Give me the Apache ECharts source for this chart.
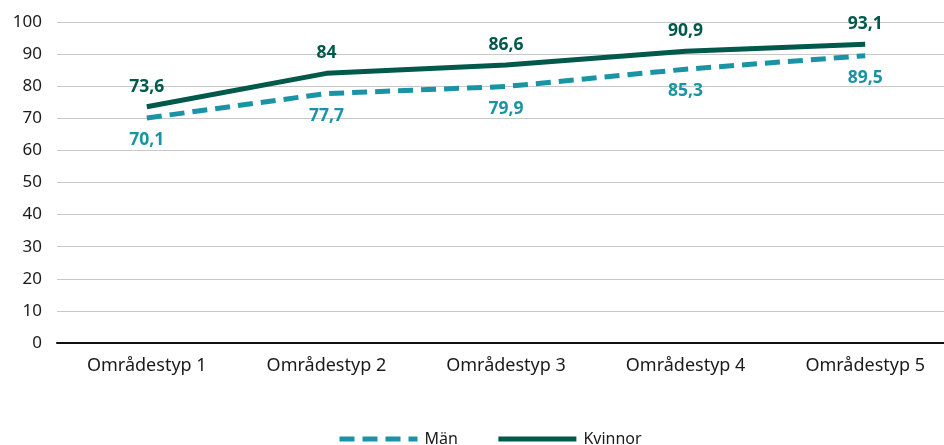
<!DOCTYPE html>
<html>
<head>
<meta charset="utf-8">
<script src="https://cdn.jsdelivr.net/npm/echarts@6/dist/echarts.min.js"></script>
<style>
  html, body { margin: 0; padding: 0; background: #fff; }
  #chart { width: 944px; height: 445px; }
</style>
</head>
<body>
<div id="chart"></div>
<script>
const categories = ["Områdestyp 1", "Områdestyp 2", "Områdestyp 3", "Områdestyp 4", "Områdestyp 5"];
const manValues = [70.1, 77.7, 79.9, 85.3, 89.5];
const kvinnorValues = [73.6, 84, 86.6, 90.9, 93.1];

const fontFamily = "'Noto Sans', 'Open Sans', sans-serif";
const colorMan = "#1a94a4";
const colorKvinnor = "#00594a";

const chart = echarts.init(document.getElementById("chart"));
const fmt = (p) => String(p.value).replace(".", ",");

chart.setOption({
  animation: false,
  textStyle: { fontFamily: fontFamily },
  grid: { left: 57, top: 22, right: -11, height: 321, outerBoundsMode: "none", containLabel: false },
  legend: {
    top: 431,
    left: 337,
    padding: 0,
    itemWidth: 78,
    itemHeight: 10,
    itemGap: 38,
    itemStyle: { opacity: 0 },
    lineStyle: { width: 5 },
    textStyle: { fontSize: 16, color: "#1a1a1a", fontFamily: fontFamily, padding: [0, 0, 0, 2] },
    data: ["Män", "Kvinnor"],
  },
  xAxis: {
    type: "category",
    data: categories,
    boundaryGap: true,
    axisLine: { lineStyle: { color: "#111", width: 2 } },
    axisTick: { show: false },
    axisLabel: { fontSize: 18, color: "#1a1a1a", margin: 14 },
  },
  yAxis: {
    type: "value",
    min: 0,
    max: 100,
    interval: 10,
    axisLine: { show: false },
    axisTick: { show: false },
    axisLabel: { fontSize: 17, color: "#1a1a1a", margin: 15 },
    splitLine: { lineStyle: { color: "#c8c8c8", width: 1 } },
  },
  series: [
    {
      name: "Män",
      type: "line",
      data: manValues,
      symbol: "circle",
      symbolSize: 0.1,
      showSymbol: true,
      itemStyle: { color: "rgba(0,0,0,0)" },
      lineStyle: { width: 5, type: [15, 8], color: colorMan },
      label: {
        show: true,
        position: "bottom",
        distance: 13,
        formatter: fmt,
        fontSize: 17.5,
        fontWeight: "bold",
        color: colorMan,
      },
    },
    {
      name: "Kvinnor",
      type: "line",
      data: kvinnorValues,
      symbol: "circle",
      symbolSize: 0.1,
      showSymbol: true,
      itemStyle: { color: "rgba(0,0,0,0)" },
      lineStyle: { width: 5, color: colorKvinnor },
      label: {
        show: true,
        position: "top",
        distance: 11,
        formatter: fmt,
        fontSize: 17.5,
        fontWeight: "bold",
        color: colorKvinnor,
      },
    },
  ],
});
</script>
</body>
</html>
